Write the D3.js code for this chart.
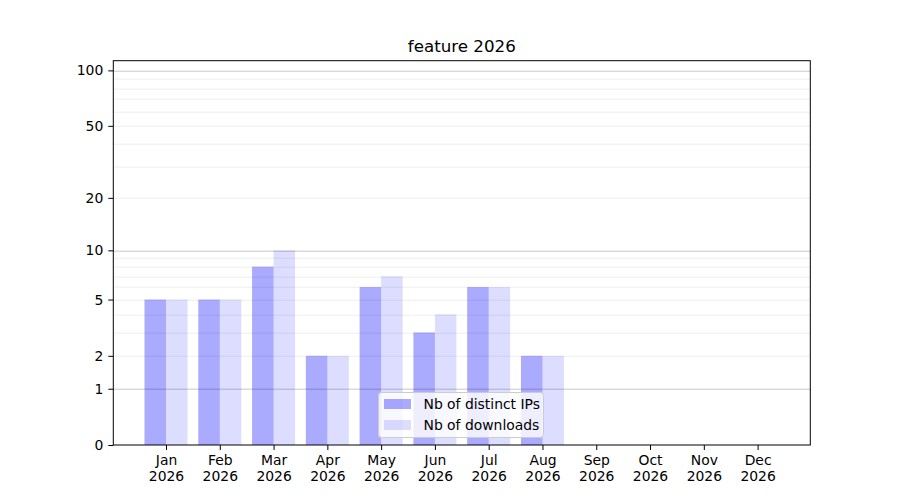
<!DOCTYPE html>
<html>
<head>
<meta charset="utf-8">
<script src="https://cdn.jsdelivr.net/npm/d3@7"></script>
<style>
    body { margin: 0; background: #fff; }
    text { font-family: "DejaVu Sans", sans-serif; fill: #000; }
</style>
</head>
<body>
<div id="vis"></div>
<script>
// chart data
var months = ["Jan", "Feb", "Mar", "Apr", "May", "Jun", "Jul", "Aug", "Sep", "Oct", "Nov", "Dec"];
var year = "2026";
var ips = [5, 5, 8, 2, 6, 3, 6, 2, 0, 0, 0, 0];
var downloads = [5, 5, 10, 2, 7, 4, 6, 2, 0, 0, 0, 0];
var yTicks = [0, 1, 2, 5, 10, 20, 50, 100];
var majorGrid = [1, 10, 100];
var minorGrid = [2, 3, 4, 5, 6, 7, 8, 9, 20, 30, 40, 50, 60, 70, 80, 90];
var seriesNames = ["Nb of distinct IPs", "Nb of downloads"];

var width = 900,
    height = 500,
    margin = { top: 60.7, right: 89.7, bottom: 55, left: 113.3 },
    drawWidth = width - margin.left - margin.right,
    drawHeight = height - margin.top - margin.bottom;

var x = d3.scaleLinear()
    .domain([-0.98, 11.98])
    .range([0, drawWidth]);

// log(1 + y) style axis
var y = d3.scaleSymlog()
    .constant(1)
    .domain([0, 112.8])
    .range([drawHeight, 0]);

var step = x(1) - x(0),
    barWidth = step * 0.4;

var svg = d3.select("#vis").append("svg")
    .attr("width", width)
    .attr("height", height);

var g = svg.append("g")
    .attr("transform", "translate(" + margin.left + "," + margin.top + ")");

// bars
var idx = d3.range(months.length);
g.selectAll(".ip").data(idx).enter().append("rect")
    .attr("class", "ip")
    .attr("x", function(i) { return x(i) - barWidth; })
    .attr("width", barWidth)
    .attr("y", function(i) { return y(ips[i]); })
    .attr("height", function(i) { return y(0) - y(ips[i]); })
    .attr("fill", "blue")
    .attr("fill-opacity", 0.333);

g.selectAll(".dl").data(idx).enter().append("rect")
    .attr("class", "dl")
    .attr("x", function(i) { return x(i); })
    .attr("width", barWidth)
    .attr("y", function(i) { return y(downloads[i]); })
    .attr("height", function(i) { return y(0) - y(downloads[i]); })
    .attr("fill", "blue")
    .attr("fill-opacity", 0.133);

// grid sits above bars, like matplotlib
g.selectAll(".minor").data(minorGrid).enter().append("line")
    .attr("x1", 0).attr("x2", drawWidth)
    .attr("y1", function(d) { return Math.round(y(d)) + 0.5; })
    .attr("y2", function(d) { return Math.round(y(d)) + 0.5; })
    .attr("stroke", "#000")
    .attr("stroke-opacity", 0.07);

g.selectAll(".major").data(majorGrid).enter().append("line")
    .attr("x1", 0).attr("x2", drawWidth)
    .attr("y1", function(d) { return Math.round(y(d)) + 0.5; })
    .attr("y2", function(d) { return Math.round(y(d)) + 0.5; })
    .attr("stroke", "#000")
    .attr("stroke-opacity", 0.22);

// axes
var yAxis = d3.axisLeft(y)
    .tickValues(yTicks)
    .tickFormat(d3.format("d"))
    .tickSize(5)
    .tickPadding(5);

var yg = g.append("g").call(yAxis);
yg.select(".domain").remove();
yg.selectAll("text").style("font-size", "13.9px");

var xAxis = d3.axisBottom(x)
    .tickValues(idx)
    .tickFormat(function(i) { return months[i]; })
    .tickSize(5)
    .tickPadding(5);

var xg = g.append("g")
    .attr("transform", "translate(0," + drawHeight + ")")
    .call(xAxis);
xg.select(".domain").remove();
xg.selectAll(".tick text")
    .style("font-size", "13.9px")
    .each(function() {
        d3.select(this).append("tspan")
            .attr("x", 0)
            .attr("dy", "1.15em")
            .text(year);
    });

// frame
g.append("rect")
    .attr("x", 0).attr("y", 0)
    .attr("width", drawWidth).attr("height", drawHeight)
    .attr("fill", "none")
    .attr("stroke", "#000")
    .attr("stroke-width", 1);

// title
svg.append("text")
    .attr("x", margin.left + drawWidth / 2)
    .attr("y", 52)
    .attr("text-anchor", "middle")
    .style("font-size", "16.7px")
    .text("feature 2026");

// legend
var legend = svg.append("g")
    .attr("transform", "translate(378.5,392.5)");

legend.append("rect")
    .attr("width", 165)
    .attr("height", 45)
    .attr("rx", 3)
    .attr("fill", "#fff")
    .attr("fill-opacity", 0.8)
    .attr("stroke", "#ccc");

var opac = [0.333, 0.133];
seriesNames.forEach(function(name, i) {
    legend.append("rect")
        .attr("x", 5.5)
        .attr("y", 6.5 + i * 21)
        .attr("width", 27)
        .attr("height", 10)
        .attr("fill", "blue")
        .attr("fill-opacity", opac[i]);
    legend.append("text")
        .attr("x", 45)
        .attr("y", 16.5 + i * 21)
        .style("font-size", "13.9px")
        .text(name);
});
</script>
</body>
</html>
